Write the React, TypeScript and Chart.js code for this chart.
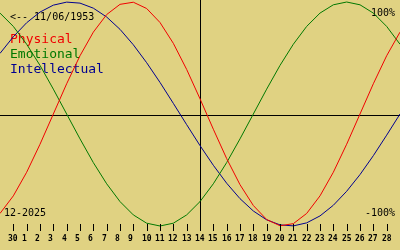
import React, { useEffect, useRef } from 'react';
import { Chart, registerables } from 'chart.js';

Chart.register(...registerables);

// Day labels for the 31 sample points (blank = no tick)
const DAYS = ['', '30', '1', '2', '3', '4', '5', '6', '7', '8', '9', '10', '11', '12', '13', '14', '15', '16', '17', '18', '19', '20', '21', '22', '23', '24', '25', '26', '27', '28', ''];

const PHYSICAL = [-0.888, -0.731, -0.52, -0.27, 0, 0.27, 0.52, 0.731, 0.888, 0.979, 0.998, 0.942, 0.817, 0.631, 0.398, 0.136, -0.136, -0.398, -0.631, -0.817, -0.942, -0.998, -0.979, -0.888, -0.731, -0.52, -0.27, 0, 0.27, 0.52, 0.731];
const EMOTIONAL = [0.901, 0.782, 0.623, 0.434, 0.222, 0, -0.222, -0.434, -0.623, -0.782, -0.901, -0.975, -1, -0.975, -0.901, -0.782, -0.623, -0.434, -0.222, 0, 0.222, 0.434, 0.623, 0.782, 0.901, 0.975, 1, 0.975, 0.901, 0.782, 0.623];
const INTELLECTUAL = [0.541, 0.69, 0.815, 0.91, 0.972, 0.999, 0.99, 0.945, 0.866, 0.756, 0.618, 0.458, 0.282, 0.095, -0.095, -0.282, -0.458, -0.618, -0.756, -0.866, -0.945, -0.99, -0.999, -0.972, -0.91, -0.815, -0.69, -0.541, -0.372, -0.189, 0];

const SERIES_NAMES = ['Physical', 'Emotional', 'Intellectual'];
const SERIES_COLORS = ['#f00000', '#007800', '#000090'];
const TODAY_INDEX = 15;
const BIRTH_TEXT = '<-- 11/06/1953';
const MONTH_TEXT = '12-2025';
const TOP_TEXT = '100%';
const BOTTOM_TEXT = '-100%';

const BG = '#e0d282';
const MONO = '"DejaVu Sans Mono", "Liberation Mono", monospace';

const overlay = {
  id: 'overlay',
  beforeDatasetsDraw(chart: any) {
    const ctx = chart.ctx;
    const xs = chart.scales.x;
    const ys = chart.scales.y;
    const W = chart.width;
    ctx.save();
    ctx.strokeStyle = '#000';
    ctx.lineWidth = 1;
    const y0 = Math.round(ys.getPixelForValue(0)) + 1.5;
    ctx.beginPath();
    ctx.moveTo(0, y0);
    ctx.lineTo(W, y0);
    ctx.stroke();
    const xt = Math.round(xs.getPixelForValue(TODAY_INDEX)) + 0.5;
    ctx.beginPath();
    ctx.moveTo(xt, 0);
    ctx.lineTo(xt, 230);
    ctx.stroke();

    ctx.textBaseline = 'alphabetic';
    ctx.textAlign = 'left';
    ctx.fillStyle = '#000';
    ctx.font = `10px ${MONO}`;
    ctx.fillText(BIRTH_TEXT, 10, 20);
    ctx.fillText(MONTH_TEXT, 4, 216);
    ctx.textAlign = 'right';
    ctx.fillText(TOP_TEXT, 395, 16);
    ctx.fillText(BOTTOM_TEXT, 395, 216);

    ctx.textAlign = 'left';
    ctx.font = `13px ${MONO}`;
    SERIES_NAMES.forEach((n, i) => {
      ctx.fillStyle = SERIES_COLORS[i];
      ctx.fillText(n, 10, 43 + i * 15);
    });
    ctx.restore();
  },
  afterDatasetsDraw(chart: any) {
    const ctx = chart.ctx;
    const xs = chart.scales.x;
    ctx.save();
    ctx.strokeStyle = '#000';
    ctx.fillStyle = '#000';
    ctx.lineWidth = 1;
    ctx.font = `bold 8px ${MONO}`;
    ctx.textAlign = 'left';
    ctx.textBaseline = 'alphabetic';
    DAYS.forEach((d, i) => {
      if (!d) return;
      const x = Math.round(xs.getPixelForValue(i)) + 0.5;
      ctx.beginPath();
      ctx.moveTo(x, 224);
      ctx.lineTo(x, 231);
      ctx.stroke();
      ctx.fillText(d, Math.round(x - 6), 241);
    });
    ctx.restore();
  },
};

export default function App() {
  const ref = useRef<HTMLCanvasElement | null>(null);
  useEffect(() => {
    if (!ref.current) return;
    const series = [PHYSICAL, EMOTIONAL, INTELLECTUAL];
    const chart = new Chart(ref.current, {
      type: 'line',
      data: {
        labels: DAYS,
        datasets: series.map((s, i) => ({
          label: SERIES_NAMES[i],
          data: s,
          borderColor: SERIES_COLORS[i],
          borderWidth: 1,
          pointRadius: 0,
          tension: 0,
          fill: false,
        })),
      },
      options: {
        responsive: false,
        animation: false,
        devicePixelRatio: 1,
        layout: { padding: 0 },
        plugins: { legend: { display: false }, tooltip: { enabled: false } },
        scales: {
          x: { type: 'category', display: false, offset: false },
          y: { type: 'linear', display: false, min: -1.2143, max: 1.0179 },
        },
      },
      plugins: [overlay],
    });
    return () => chart.destroy();
  }, []);
  return (
    <div style={{ position: 'fixed', left: 0, top: 0, width: 400, height: 250, background: BG }}>
      <canvas ref={ref} width={400} height={250} />
    </div>
  );
}
